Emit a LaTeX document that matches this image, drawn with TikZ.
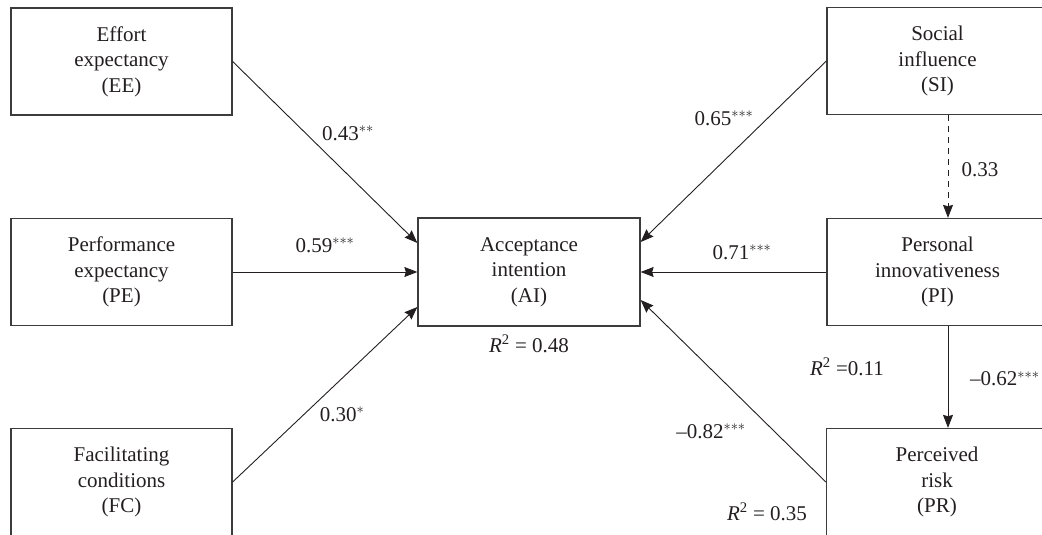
\documentclass[tikz,border=0pt]{standalone}
\usepackage{fontspec}
\setmainfont{Liberation Serif}
\usetikzlibrary{arrows.meta,positioning}
\definecolor{semink}{HTML}{231F20}
\definecolor{semedge}{HTML}{3C3C3C}
\tikzset{
  blk/.style={draw=semedge, line width=1.3pt, fill=white, align=center, text=semink, font=\fontsize{21}{25.5}\selectfont, minimum width=221pt, minimum height=107pt, inner sep=0pt},
  arr/.style={-{Stealth[length=13pt,width=10pt,inset=1.5pt]}, line width=0.9pt, color=semink},
  dsh/.style={arr, dash pattern=on 6pt off 5pt},
  lbl/.style={anchor=base, inner sep=0pt, text=semink, font=\fontsize{21}{24}\selectfont},
}

\begin{document}
\begin{tikzpicture}[x=1pt,y=1pt]
      \useasboundingbox (0,0) rectangle (1042,535);
      % constructs
      \node[blk] (ee) at (121.5,473.5) {Effort\\expectancy\\(EE)};
      \node[blk] (pe) at (121.5,263) {Performance\\expectancy\\(PE)};
      \node[blk] (fc) at (121.5,53) {Facilitating\\conditions\\(FC)};
      \node[blk, minimum width=222pt, minimum height=108pt] (ai) at (529,263) {Acceptance\\intention\\(AI)};
      \node[blk] (si) at (937.5,474) {Social\\influence\\(SI)};
      \node[blk] (pi) at (937.5,263) {Personal\\innovativeness\\(PI)};
      \node[blk] (pr) at (937,53) {Perceived\\risk\\(PR)};
      % paths
      \draw[arr] (ee.east) -- ([yshift=29pt]ai.west);
      \draw[arr] (pe.east) -- (ai.west);
      \draw[arr] (fc.east) -- ([yshift=-35pt]ai.west);
      \draw[arr] (si.west) -- ([yshift=30pt]ai.east);
      \draw[arr] (pi.west) -- (ai.east);
      \draw[arr] (pr.west) -- ([yshift=-28pt]ai.east);
      \draw[dsh] ([xshift=10.5pt]si.south) -- ([xshift=10.5pt]pi.north);
      \draw[arr] ([xshift=10.5pt]pi.south) -- ([xshift=11pt]pr.north);
      % coefficients
      \node[lbl] (cee) at (348,394.5) {0.43$^{\ast\ast}$};
      \node[lbl] (cpe) at (325,282.5) {0.59$^{\ast\ast\ast}$};
      \node[lbl] (cfc) at (342,113.5) {0.30$^{\ast}$};
      \node[lbl] (csi) at (724,409.5) {0.65$^{\ast\ast\ast}$};
      \node[lbl] (cpi) at (742,275.5) {0.71$^{\ast\ast\ast}$};
      \node[lbl] (cpr) at (711,96.5) {--0.82$^{\ast\ast\ast}$};
      \node[lbl] (csp) at (980,358.5) {0.33};
      \node[lbl, anchor=base west] (cpp) at (970,149) {--0.62$^{\ast\ast\ast}$};
      % explained variance
      \node[lbl] (rai) at (529,182.5) {\textit{R}\textsuperscript{2} = 0.48};
      \node[lbl] (rpi) at (847,159.5) {\textit{R}\textsuperscript{2} =0.11};
      \node[lbl] (rpr) at (767,14.5) {\textit{R}\textsuperscript{2} = 0.35};
    \end{tikzpicture}
\end{document}
